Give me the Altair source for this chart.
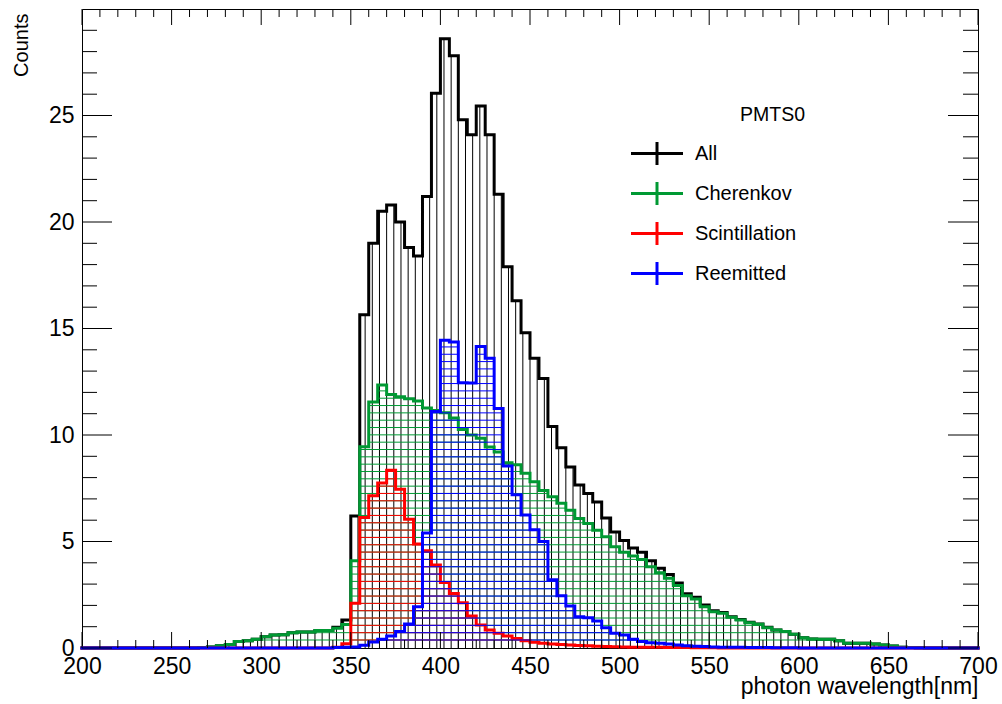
import altair as alt
import numpy as np
import pandas as pd

FONT = "Liberation Sans"
GREEN = "#009933"
RED = "#ff0000"
BLUE = "#0000ff"
BLACK = "#000000"

# Histogram binning: 100 bins of 5 nm from 200 to 700 nm
EDGE_MIN, EDGE_MAX, BIN_WIDTH = 200, 700, 5
bin_edges = list(range(EDGE_MIN, EDGE_MAX, BIN_WIDTH))

# Bin contents, listed from the first non-empty bin (left edge given by *_start)
all_start = 265
all_counts = [0.02, 0.05, 0.11, 0.17, 0.30, 0.34, 0.41, 0.53, 0.61, 0.62,
              0.72, 0.75, 0.75, 0.82, 0.82, 0.98, 1.31, 6.2, 15.65, 19.0,
              20.5, 20.8, 20.0, 18.8, 18.4, 21.2, 26.05, 28.6, 27.8, 24.8,
              24.1, 25.45, 24.1, 21.3, 17.9, 16.3, 14.8, 13.6, 12.65, 10.4,
              9.4, 8.5, 7.65, 7.25, 6.85, 6.1, 5.45, 5.05, 4.7, 4.5,
              4.1, 3.75, 3.45, 3.05, 2.55, 2.38, 2.02, 1.75, 1.67, 1.47,
              1.34, 1.21, 1.13, 0.97, 0.85, 0.78, 0.65, 0.48, 0.42, 0.41,
              0.41, 0.34, 0.22, 0.22, 0.22, 0.19, 0.14, 0.09, 0.04, 0.02,
              0.01]

cherenkov_start = 265
cherenkov_counts = [0.02, 0.05, 0.11, 0.17, 0.30, 0.34, 0.41, 0.53, 0.61, 0.62,
                    0.72, 0.75, 0.75, 0.82, 0.82, 0.93, 1.10, 4.1, 9.45, 11.55,
                    12.35, 11.9, 11.8, 11.7, 11.6, 11.27, 11.15, 11.05, 10.8, 10.26,
                    10.0, 9.85, 9.44, 9.2, 8.7, 8.6, 8.2, 7.8, 7.4, 7.1,
                    6.8, 6.47, 6.08, 5.85, 5.53, 5.22, 4.75, 4.5, 4.32, 4.16,
                    3.81, 3.53, 3.27, 2.94, 2.45, 2.3, 1.94, 1.70, 1.63, 1.44,
                    1.31, 1.19, 1.11, 0.95, 0.84, 0.77, 0.64, 0.48, 0.42, 0.41,
                    0.41, 0.34, 0.22, 0.22, 0.22, 0.19, 0.14, 0.09, 0.04, 0.02,
                    0.01]

scint_start = 340
scint_counts = [0.03, 0.2, 2.1, 6.13, 7.15, 7.75, 8.35, 7.45, 6.05, 4.88,
                4.57, 3.9, 3.08, 2.56, 2.13, 1.5, 1.08, 0.84, 0.69, 0.56,
                0.45, 0.34, 0.27, 0.22, 0.19, 0.16, 0.14, 0.12, 0.10, 0.08,
                0.07, 0.06, 0.05, 0.04, 0.04, 0.03, 0.03, 0.02, 0.02, 0.02,
                0.01, 0.01, 0.01]

reemit_start = 340
reemit_counts = [0.02, 0.03, 0.05, 0.13, 0.28, 0.41, 0.56, 0.77, 1.13, 1.94,
                 5.4, 11.1, 14.45, 14.37, 12.45, 12.44, 14.15, 13.6, 11.25, 8.55,
                 7.2, 6.25, 5.55, 5.0, 3.2, 2.45, 1.97, 1.47, 1.42, 1.27,
                 0.95, 0.69, 0.61, 0.41, 0.30, 0.25, 0.22, 0.19, 0.14, 0.10,
                 0.08, 0.07, 0.05, 0.04, 0.03, 0.03, 0.02, 0.02, 0.02, 0.01,
                 0.01, 0.01]

x_major_ticks = list(range(200, 701, 50))
x_minor_ticks = [v for v in range(200, 701, 10) if v % 50]
y_major_ticks = list(range(0, 26, 5))
y_minor_ticks = [v for v in range(0, 31) if v % 5]

W, H = 896, 639
X_MIN, X_MAX, Y_MIN, Y_MAX = 200, 700, 0, 30

# hatch pattern spacing (vertical lines in nm, horizontal lines in counts)
HATCH_DX, HATCH_X0 = 4.0, 202.0
HATCH_DY, HATCH_Y0 = 0.344, 0.375


def full_series(start, vals):
    out = [0.0] * len(bin_edges)
    i0 = (start - EDGE_MIN) // BIN_WIDTH
    for k, v in enumerate(vals):
        out[i0 + k] = v
    return out


series = [
    ("All", BLACK, full_series(all_start, all_counts)),
    ("Cherenkov", GREEN, full_series(cherenkov_start, cherenkov_counts)),
    ("Scintillation", RED, full_series(scint_start, scint_counts)),
    ("Reemitted", BLUE, full_series(reemit_start, reemit_counts)),
]

xscale = alt.Scale(domain=[X_MIN, X_MAX], nice=False, zero=False)
yscale = alt.Scale(domain=[Y_MIN, Y_MAX], nice=False, zero=False)

xaxis = alt.Axis(values=x_major_ticks, format="d", title="photon wavelength[nm]",
                 ticks=False, tickSize=0, domain=False, grid=False,
                 labelFont=FONT, labelFontSize=23, labelColor=BLACK,
                 labelPadding=25, labelBaseline="alphabetic",
                 labelFlush=False, labelOverlap=False,
                 titleFont=FONT, titleFontSize=23, titleFontWeight="normal",
                 titleColor=BLACK, titleX=W, titleY=45, titleAlign="right",
                 titleBaseline="alphabetic", titleAnchor="end")
yaxis = alt.Axis(values=y_major_ticks, format="d", title="Counts",
                 ticks=False, tickSize=0, domain=False, grid=False,
                 labelFont=FONT, labelFontSize=23, labelColor=BLACK,
                 labelPadding=8, labelBaseline="middle",
                 labelFlush=False, labelOverlap=False,
                 titleFont=FONT, titleFontSize=20, titleFontWeight="normal",
                 titleColor=BLACK, titleAngle=270, titleX=-55, titleY=4,
                 titleAlign="right", titleBaseline="alphabetic")


def X(field):
    return alt.X(field, type="quantitative", scale=xscale, axis=xaxis)


def Y(field):
    return alt.Y(field, type="quantitative", scale=yscale, axis=yaxis)


def step_frame(vals):
    xs = bin_edges + [EDGE_MAX]
    ys = list(vals) + [0.0]
    return pd.DataFrame({"x": xs, "v": ys})


def vertical_hatch(vals):
    rows = []
    for x in np.arange(HATCH_X0, EDGE_MAX, HATCH_DX):
        idx = int((x - EDGE_MIN) // BIN_WIDTH)
        if vals[idx] > 0:
            rows.append({"x": float(x), "y0": 0.0, "y1": vals[idx]})
    return pd.DataFrame(rows)


def horizontal_hatch(vals):
    rows = []
    n = len(vals)
    lvl = HATCH_Y0
    vmax = max(vals)
    while lvl < vmax:
        i = 0
        while i < n:
            if vals[i] > lvl:
                j = i
                while j < n and vals[j] > lvl:
                    j += 1
                rows.append({"lvl": lvl, "x0": bin_edges[i],
                             "x1": bin_edges[j - 1] + BIN_WIDTH})
                i = j
            else:
                i += 1
        lvl += HATCH_DY
    return pd.DataFrame(rows)


layers = []
for k, (name, color, vals) in enumerate(series):
    if k == 0:
        hatch = alt.Chart(vertical_hatch(vals)).mark_rule(
            color=color, strokeWidth=1).encode(
            x=X("x"), y=Y("y0"), y2="y1")
    else:
        hatch = alt.Chart(horizontal_hatch(vals)).mark_rule(
            color=color, strokeWidth=1).encode(
            x=X("x0"), x2="x1", y=Y("lvl"))
    outline = alt.Chart(step_frame(vals)).mark_line(
        color=color, strokeWidth=3, interpolate="step-after",
        strokeJoin="miter", strokeCap="square").encode(
        x=X("x"), y=Y("v"))
    layers += [hatch, outline]

# axis ticks on all four sides, pointing into the frame
one = pd.DataFrame({"k": [0]})
for vals, length in ((x_major_ticks, 16), (x_minor_ticks, 8)):
    df = pd.DataFrame({"t": vals})
    layers.append(alt.Chart(df).mark_rule(color=BLACK, strokeWidth=1).encode(
        x=X("t"), y=alt.value(H), y2=alt.value(H - length)))
    layers.append(alt.Chart(df).mark_rule(color=BLACK, strokeWidth=1).encode(
        x=X("t"), y=alt.value(0), y2=alt.value(length)))
for vals, length in ((y_major_ticks, 30), (y_minor_ticks, 15)):
    df = pd.DataFrame({"t": vals})
    layers.append(alt.Chart(df).mark_rule(color=BLACK, strokeWidth=1).encode(
        y=Y("t"), x=alt.value(0), x2=alt.value(length)))
    layers.append(alt.Chart(df).mark_rule(color=BLACK, strokeWidth=1).encode(
        y=Y("t"), x=alt.value(W), x2=alt.value(W - length)))

# legend box
LEG_TITLE_X, LEG_TITLE_Y = 723, 106
LEG_LINE_X0, LEG_LINE_X1, LEG_BAR_X, LEG_TEXT_X = 549, 601, 575, 613
LEG_ROW0, LEG_ROW_STEP, LEG_BAR_HALF = 144.5, 40, 11.5

layers.append(alt.Chart(pd.DataFrame({"t": ["PMTS0"]})).mark_text(
    font=FONT, fontSize=19.5, align="right", baseline="middle", color=BLACK).encode(
    text="t:N", x=alt.value(LEG_TITLE_X), y=alt.value(LEG_TITLE_Y)))
for k, (name, color, _) in enumerate(series):
    yc = LEG_ROW0 + k * LEG_ROW_STEP
    layers.append(alt.Chart(one).mark_rule(color=color, strokeWidth=3).encode(
        x=alt.value(LEG_LINE_X0), x2=alt.value(LEG_LINE_X1), y=alt.value(yc)))
    layers.append(alt.Chart(one).mark_rule(color=color, strokeWidth=3).encode(
        x=alt.value(LEG_BAR_X), y=alt.value(yc - LEG_BAR_HALF),
        y2=alt.value(yc + LEG_BAR_HALF)))
    layers.append(alt.Chart(pd.DataFrame({"t": [name]})).mark_text(
        font=FONT, fontSize=20, align="left", baseline="middle", color=BLACK).encode(
        text="t:N", x=alt.value(LEG_TEXT_X), y=alt.value(yc)))

chart = alt.layer(*layers).properties(
    width=W, height=H,
    autosize=alt.AutoSizeParams(type="none"),
    padding={"left": 82, "top": 9, "right": 24, "bottom": 56},
    background="white",
).configure_view(stroke=BLACK, strokeWidth=1)

chart.save("out.html", embed_options={"renderer": "svg", "actions": False})
